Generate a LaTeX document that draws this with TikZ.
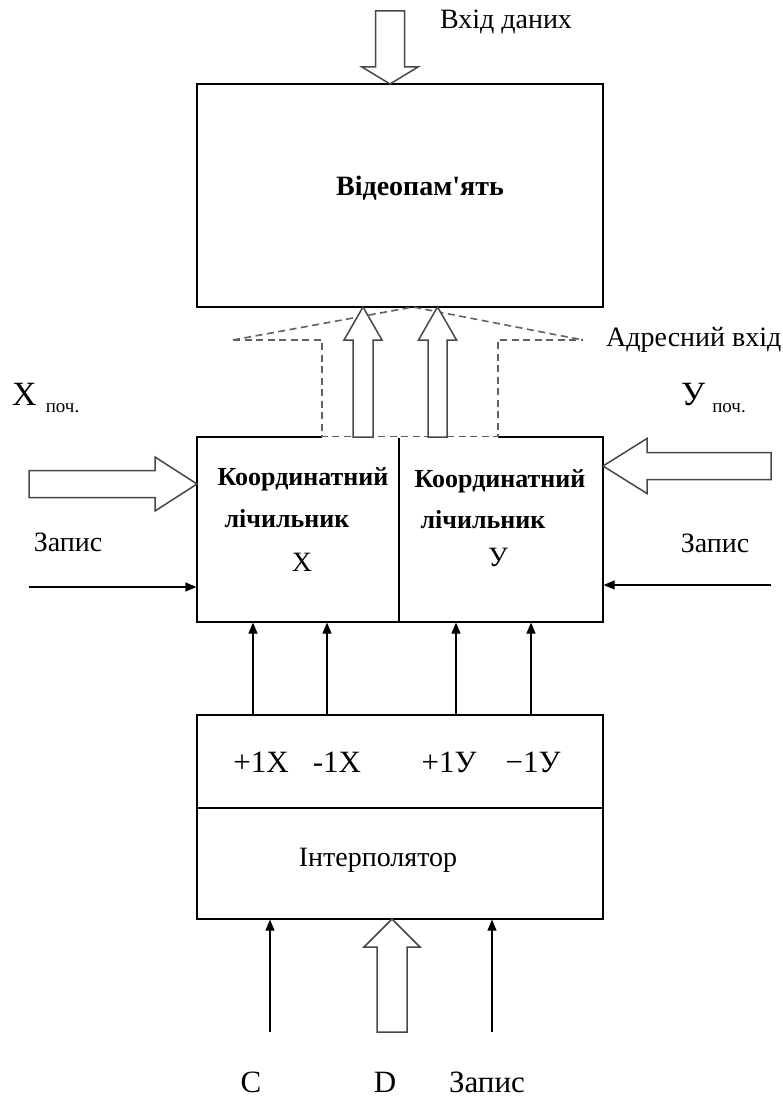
\documentclass[tikz,border=0pt]{standalone}
\usepackage{fontspec}
\setmainfont{Liberation Serif}
\newfontfamily\plainserif{Liberation Serif}
\usetikzlibrary{arrows.meta}
\newcommand\fatarrow[6]{%
  \begin{scope}[shift={(#1)},rotate=#2]
    \draw[hollow] (0,0) -- (-#6,#5) -- (-#6,#4) -- (-#3,#4) -- (-#3,-#4) -- (-#6,-#4) -- (-#6,-#5) -- cycle;
  \end{scope}}
\begin{document}
\begin{tikzpicture}[x=1pt,y=-1pt,
  blk/.style={draw=black,line width=1.2pt,inner sep=0pt},
  hollow/.style={draw=black!72,line width=1.5pt,fill=white,line join=miter},
  sig/.style={draw=black,line width=1.2pt,-{Triangle[length=11pt,width=9pt]}},
  addr/.style={draw=black!62,line width=1.6pt,dash pattern=on 7pt off 4.5pt},
  lbl/.style={inner sep=0pt,font=\fontsize{28}{32}\selectfont},
  big/.style={inner sep=0pt,font=\fontsize{31}{36}\selectfont},
  bld/.style={inner sep=0pt,font=\fontsize{26}{30}\selectfont\bfseries}]
\useasboundingbox (0,0) rectangle (783,1097);

% blocks
\node[blk,minimum width=406pt,minimum height=223pt] (mem) at (400,195.5) {};
\node[blk,minimum width=202pt,minimum height=185pt] (cx) at (298,529.5) {};
\node[blk,minimum width=204pt,minimum height=185pt] (cy) at (501,529.5) {};
\node[blk,minimum width=406pt,minimum height=93pt] (itop) at (400,761.5) {};
\node[blk,minimum width=406pt,minimum height=111pt] (ibot) at (400,863.5) {};

% texts
\node[lbl] (tdata) at (506,22) {Вхід даних};
\node[inner sep=0pt,font=\fontsize{28}{32}\plainserif\selectfont\bfseries] (tmem) at (420,188) {Відеопам'ять};
\node[lbl,anchor=west] (taddr) at (606,340) {Адресний вхід};
\node[inner sep=0pt,anchor=west] (txs) at (12,398) {{\fontsize{34}{40}\selectfont X}\hspace{9pt}\raisebox{-7pt}{\fontsize{19}{22}\selectfont поч.}};
\node[inner sep=0pt,anchor=west] (tys) at (681,398) {{\fontsize{34}{40}\selectfont У}\hspace{7pt}\raisebox{-7pt}{\fontsize{19}{22}\selectfont поч.}};
\node[lbl] (twl) at (68,542) {Запис};
\node[lbl] (twr) at (715,543) {Запис};
\node[bld] (tcx1) at (303,479) {Координатний};
\node[bld] (tcx2) at (287,519) {лічильник};
\node[lbl] (tcx3) at (302,562) {X};
\node[bld] (tcy1) at (500,481) {Координатний};
\node[bld] (tcy2) at (483,520) {лічильник};
\node[lbl] (tcy3) at (498,557) {У};
\node[big] (tp1) at (261,762) {+1X};
\node[big] (tm1) at (337,762) {-1X};
\node[big] (tp2) at (449,762) {+1У};
\node[big] (tm2) at (533,762) {−1У};
\node[lbl] (tint) at (378,860) {Інтерполятор};
\node[big] (tc) at (251,1082) {C};
\node[big] (td) at (385,1082) {D};
\node[big] (tw) at (487,1082) {Запис};

% address bus dashed outline
\coordinate (dl) at (233,340);
\coordinate (dr) at (583,340);
\coordinate (pk) at (413,307);
\coordinate (vl) at (322,340);
\coordinate (vr) at (498,340);
\draw[white,line width=2.5pt] (vl |- cx.north) -- (vr |- cx.north);
\draw[addr] (dl) -- (vl) -- (vl |- cx.north) -- (vr |- cx.north) -- (vr) -- (dr);
\draw[addr] (dl) -- (pk) -- (dr);

% hollow arrows
\coordinate (ta) at (390,84);
\fatarrow{ta}{-90}{73}{14.5}{28}{17}
\coordinate (a1) at (363,307);
\fatarrow{a1}{90}{130}{10}{19}{33}
\coordinate (a2) at (437.5,307);
\fatarrow{a2}{90}{130}{9.5}{19}{33}
\coordinate (la) at (197,484);
\fatarrow{la}{0}{168}{13.5}{27}{42}
\coordinate (ra) at (603,466);
\fatarrow{ra}{180}{168}{13.5}{27.5}{44}
\coordinate (da) at (392,919);
\fatarrow{da}{90}{113}{15}{28}{28}

% signal arrows
\coordinate (wl) at (29,587);
\coordinate (wr) at (771,585);
\draw[sig] (wl) -- (wl -| cx.west);
\draw[sig] (wr) -- (wr -| cy.east);
\foreach \n/\x in {s1/253,s2/327}{
  \coordinate (\n) at (\x,0);
  \draw[sig] (itop.north -| \n) -- (cx.south -| \n);}
\foreach \n/\x in {s3/456,s4/531}{
  \coordinate (\n) at (\x,0);
  \draw[sig] (itop.north -| \n) -- (cy.south -| \n);}
\coordinate (bc) at (270,1032);
\coordinate (bw) at (492,1032);
\draw[sig] (bc) -- (bc |- ibot.south);
\draw[sig] (bw) -- (bw |- ibot.south);
\end{tikzpicture}
\end{document}
